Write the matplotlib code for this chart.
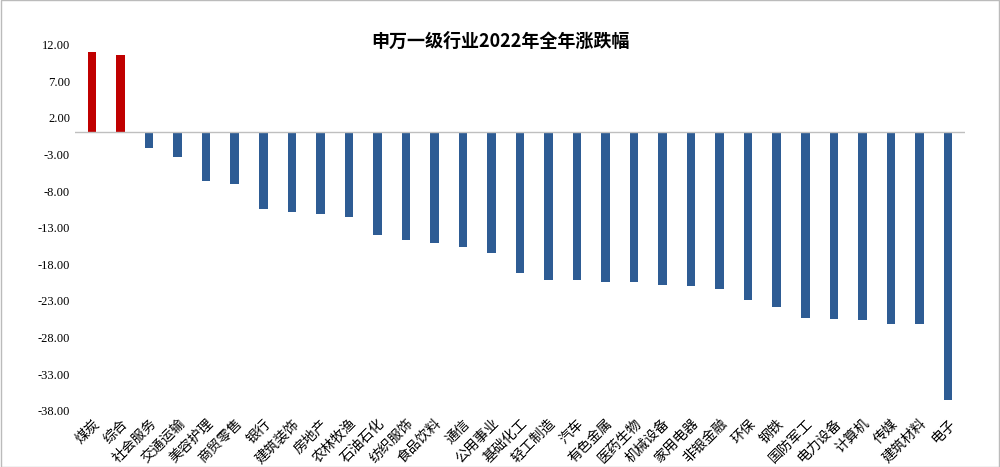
import matplotlib
matplotlib.use("Agg")
import matplotlib.pyplot as plt
from matplotlib.patches import Rectangle

plt.rcParams["font.family"] = ["Noto Sans CJK SC", "DejaVu Sans"]

categories = ["煤炭","综合","社会服务","交通运输","美容护理","商贸零售","银行","建筑装饰","房地产","农林牧渔",
              "石油石化","纺织服饰","食品饮料","通信","公用事业","基础化工","轻工制造","汽车","有色金属","医药生物",
              "机械设备","家用电器","非银金融","环保","钢铁","国防军工","电力设备","计算机","传媒","建筑材料","电子"]
values = [11.0,10.6,-2.2,-3.4,-6.7,-7.1,-10.5,-10.9,-11.2,-11.5,
          -14.0,-14.7,-15.1,-15.6,-16.4,-19.2,-20.1,-20.2,-20.4,-20.4,
          -20.8,-21.0,-21.3,-22.8,-23.8,-25.3,-25.4,-25.6,-26.1,-26.2,-36.5]
yticks = [12,7,2,-3,-8,-13,-18,-23,-28,-33,-38]

fig = plt.figure(figsize=(10,4.67), dpi=100)
ax = fig.add_axes([0.075, 0.12, 0.89, 0.785])
fig.patches.append(Rectangle((0.001,0.001),0.998,0.998,transform=fig.transFigure,fill=False,edgecolor="#bbbbbb",lw=1))
colors = ["#C00000" if v > 0 else "#2E5C94" for v in values]
x = list(range(len(categories)))
ax.bar(x, values, width=0.3, color=colors)
ax.axhline(0, color="#bfbfbf", lw=1)
ax.set_ylim(-38, 12)
ax.set_xlim(-0.6, len(categories)-0.4)
ax.set_yticks(yticks)
ax.set_yticklabels([f"{t:.2f}" for t in yticks], fontsize=9, family="Liberation Serif")
ax.set_xticks(x)
ax.set_xticklabels(categories, rotation=45, ha="right", rotation_mode="anchor", fontsize=10)
ax.tick_params(axis="x", length=0, pad=4)
ax.tick_params(axis="y", length=0)
for s in ax.spines.values():
    s.set_visible(False)
fig.text(0.5, 0.9, "申万一级行业2022年全年涨跌幅", ha="center", fontsize=13, fontweight="bold")
fig.savefig("out.png", dpi=100)
